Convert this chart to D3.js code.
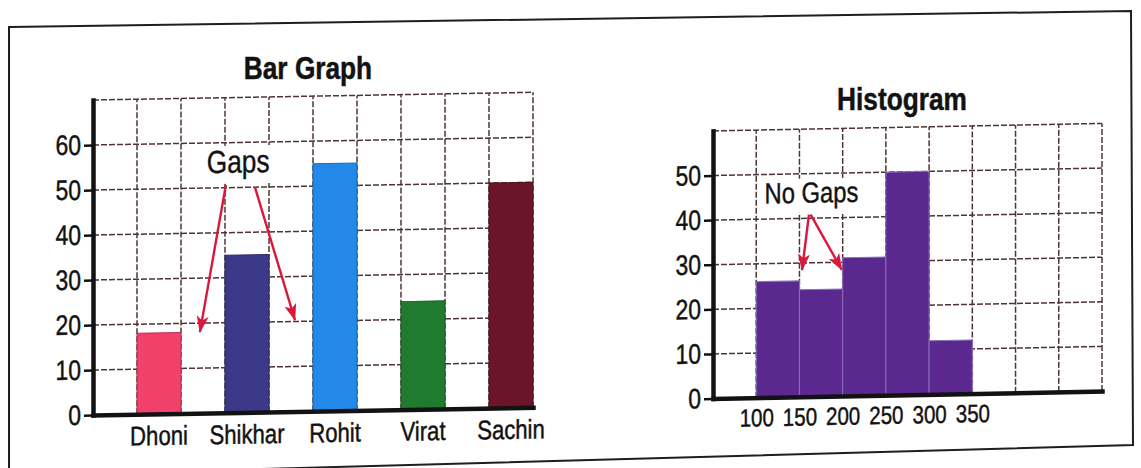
<!DOCTYPE html>
<html><head><meta charset="utf-8">
<script src="https://cdn.jsdelivr.net/npm/d3@7"></script>
<style>
html,body{margin:0;padding:0;background:#fff;}
svg{display:block;}
</style></head><body>
<svg id="c" width="1141" height="468"></svg>
<script>
// ---------------- data ----------------
const players = ["Dhoni", "Shikhar", "Rohit", "Virat", "Sachin"];
const runs = [18, 35, 55, 24, 50];
const barColors = ["#ef4169", "#3c3a88", "#2389e8", "#1f7b2d", "#6b1529"];
const barYTicks = [0, 10, 20, 30, 40, 50, 60];
const barYMax = 70;
const barColumns = 10;

const binEdges = [100, 150, 200, 250, 300, 350];
const binCounts = [26, 24, 31, 50, 12];
const histXTicks = [100, 150, 200, 250, 300, 350];
const histYTicks = [0, 10, 20, 30, 40, 50];
const histXDomain = [50, 500];
const histYMax = 60;
const histGridStep = 50;
const histColor = "#5b2890";

const barTitle = "Bar Graph";
const histTitle = "Histogram";
const gapsLabel = "Gaps";
const noGapsLabel = "No Gaps";
// annotation anchors in data units: [column, value] / [x value, count]
const gapsText = [3.3, 53.3];
const gapsArrows = [[[3.02, 50.6], [2.43, 18.0]], [[3.68, 50.0], [4.59, 20.3]]];
const noGapsText = [164, 43.5];
const noGapsArrows = [[[161, 40.8], [153, 28.4]], [[163, 40.8], [199, 28.3]]];

// ---------------- fonts ----------------
function hasFont(name) {
  const c = document.createElement("canvas").getContext("2d");
  const s = "Bar Graph Shikhar 0123456789";
  c.font = "40px monospace"; const a = c.measureText(s).width;
  c.font = `40px "${name}", monospace`; const b = c.measureText(s).width;
  return Math.abs(a - b) > 0.5;
}
const NARROW = hasFont("Liberation Sans Narrow");
const FONT = NARROW ? '"Liberation Sans Narrow", "Arial Narrow", sans-serif'
                    : '"Liberation Sans", Arial, sans-serif';
function squeeze(sel) {
  if (NARROW) return;
  sel.each(function () {
    const w = this.getComputedTextLength();
    d3.select(this).attr("textLength", w * 0.82).attr("lengthAdjust", "spacingAndGlyphs");
  });
}

const INK = "#121212";
const RED = "#d8193c";
const GRID = "#4e3434";

const svg = d3.select("#c");
const defs = svg.append("defs");
defs.append("marker").attr("id", "ah")
  .attr("viewBox", "0 0 10 10").attr("preserveAspectRatio", "none")
  .attr("refX", 9.5).attr("refY", 5)
  .attr("markerWidth", 17).attr("markerHeight", 12)
  .attr("markerUnits", "userSpaceOnUse").attr("orient", "auto")
  .append("path").attr("d", "M0,0L10,5L0,10L2.5,5Z").attr("fill", RED);

// outer frame (photo border)
svg.append("path")
  .attr("d", "M9,27L1131,11L1133,445L9,476Z")
  .attr("fill", "none").attr("stroke", "#1e1e1e").attr("stroke-width", 2);

function heavy(sel, w) {
  sel.attr("stroke", INK).attr("stroke-width", w).attr("paint-order", "stroke");
}
function styleAxis(g, fs) {
  g.select(".domain").attr("stroke", INK).attr("stroke-width", 4.5).attr("stroke-linecap", "square");
  g.selectAll(".tick line").attr("stroke", INK).attr("stroke-width", 2.5);
  const tx = g.selectAll(".tick text").attr("fill", INK).style("font-family", FONT).style("font-size", fs + "px");
  heavy(tx, 0.45);
  squeeze(tx);
}

function annotate(g, label, pos, fs, arrows, sx, sy) {
  const t = g.append("text").attr("x", sx(pos[0])).attr("y", sy(pos[1]))
    .attr("text-anchor", "middle").attr("fill", INK)
    .style("font-family", FONT).style("font-size", fs + "px").text(label);
  heavy(t, 0.4);
  squeeze(t);
  const bb = t.node().getBBox();
  g.insert("rect", () => t.node())
    .attr("x", bb.x - 4).attr("y", bb.y + 2).attr("width", bb.width + 8).attr("height", bb.height + 2)
    .attr("fill", "#fff");
  g.selectAll(null).data(arrows).join("line")
    .attr("x1", d => sx(d[0][0])).attr("y1", d => sy(d[0][1]))
    .attr("x2", d => sx(d[1][0])).attr("y2", d => sy(d[1][1]))
    .attr("stroke", RED).attr("stroke-width", 2.4).attr("marker-end", "url(#ah)");
}

// ---------------- Bar graph ----------------
const B = { l: 93, r: 533, t: 100, b: 415, skew: -1.0 };
const g1 = svg.append("g").attr("transform", `translate(${B.l},0) skewY(${B.skew}) translate(${-B.l},0)`);
const xb = d3.scaleBand().domain(players).range([B.l, B.r])
  .paddingInner(0.5).paddingOuter(0.25).align(1);
const colB = d3.scaleLinear().domain([0, barColumns]).range([B.l, B.r]);
const yb = d3.scaleLinear().domain([0, barYMax]).range([B.b, B.t]);

const grid1 = g1.append("g").attr("stroke", GRID).attr("stroke-width", 1.5).attr("stroke-dasharray", "6,2").attr("fill", "none");
grid1.selectAll(null).data(d3.range(1, barColumns + 1)).join("line")
  .attr("x1", d => colB(d)).attr("x2", d => colB(d)).attr("y1", yb(0)).attr("y2", yb(barYMax));
grid1.selectAll(null).data(d3.range(10, barYMax + 1, 10)).join("line")
  .attr("x1", B.l).attr("x2", B.r).attr("y1", d => yb(d)).attr("y2", d => yb(d));

g1.selectAll(null).data(players).join("rect")
  .attr("x", d => xb(d)).attr("width", xb.bandwidth())
  .attr("y", (d, i) => yb(runs[i])).attr("height", (d, i) => yb(0) - yb(runs[i]))
  .attr("fill", (d, i) => barColors[i])
  .attr("stroke", (d, i) => d3.color(barColors[i]).darker(0.7)).attr("stroke-width", 1);

const ax1 = g1.append("g").attr("transform", `translate(${B.l},0)`)
  .call(d3.axisLeft(yb).tickValues(barYTicks).tickSize(9).tickSizeOuter(0).tickPadding(3));
styleAxis(ax1, 28);
const bx1 = g1.append("g").attr("transform", `translate(0,${B.b})`)
  .call(d3.axisBottom(xb).tickSize(0).tickPadding(12));
styleAxis(bx1, 27);

annotate(g1, gapsLabel, gapsText, 32, gapsArrows, colB, yb);

const t1 = svg.append("text").attr("x", 308).attr("y", 79).attr("text-anchor", "middle")
  .attr("fill", INK).style("font-family", FONT).style("font-weight", "bold").style("font-size", "32px").text(barTitle);
heavy(t1, 0.5);
squeeze(t1);

// ---------------- Histogram ----------------
const H = { l: 713, r: 1102, b: 398.5, unit: 4.46, skew: -1.1 };
const g2 = svg.append("g").attr("transform", `translate(${H.l},0) skewY(${H.skew}) translate(${-H.l},0)`);
const xh = d3.scaleLinear().domain(histXDomain).range([H.l, H.r]);
const yh = d3.scaleLinear().domain([0, histYMax]).range([H.b, H.b - histYMax * H.unit]);

const grid2 = g2.append("g").attr("stroke", GRID).attr("stroke-width", 1.5).attr("stroke-dasharray", "6,2").attr("fill", "none");
grid2.selectAll(null).data(d3.range(histXDomain[0] + histGridStep, histXDomain[1] + 1, histGridStep)).join("line")
  .attr("x1", d => xh(d)).attr("x2", d => xh(d)).attr("y1", yh(0)).attr("y2", yh(histYMax));
grid2.selectAll(null).data(d3.range(10, histYMax + 1, 10)).join("line")
  .attr("x1", H.l).attr("x2", H.r).attr("y1", d => yh(d)).attr("y2", d => yh(d));

g2.selectAll(null).data(binCounts).join("rect")
  .attr("x", (d, i) => xh(binEdges[i])).attr("width", (d, i) => xh(binEdges[i + 1]) - xh(binEdges[i]))
  .attr("y", d => yh(d)).attr("height", d => yh(0) - yh(d))
  .attr("fill", histColor).attr("stroke", "#8a70b4").attr("stroke-width", 1);

const ax2 = g2.append("g").attr("transform", `translate(${H.l},0)`)
  .call(d3.axisLeft(yh).tickValues(histYTicks).tickSize(9).tickSizeOuter(0).tickPadding(3));
styleAxis(ax2, 28);
const bx2 = g2.append("g").attr("transform", `translate(0,${H.b})`)
  .call(d3.axisBottom(xh).tickValues(histXTicks).tickSize(0).tickPadding(11).tickSizeOuter(0));
styleAxis(bx2, 25);

annotate(g2, noGapsLabel, noGapsText, 29, noGapsArrows, xh, yh);

const t2 = svg.append("text").attr("x", 902).attr("y", 110).attr("text-anchor", "middle")
  .attr("fill", INK).style("font-family", FONT).style("font-weight", "bold").style("font-size", "32px").text(histTitle);
heavy(t2, 0.5);
squeeze(t2);
</script>
</body></html>
